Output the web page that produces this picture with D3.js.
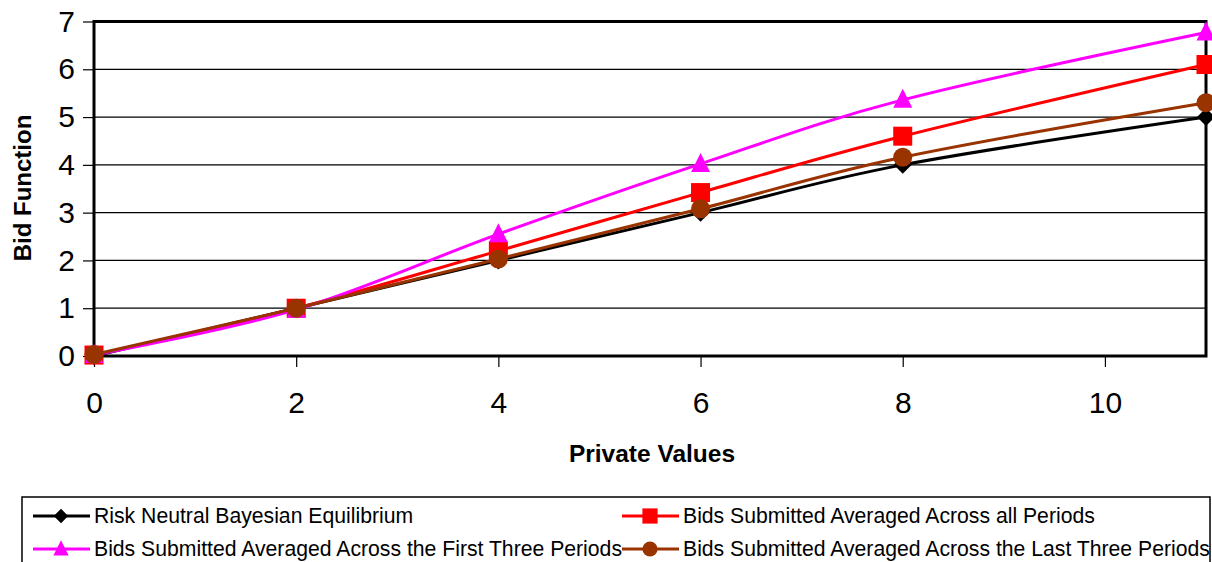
<!DOCTYPE html>
<html>
<head>
<meta charset="utf-8">
<script src="https://cdn.jsdelivr.net/npm/d3@7"></script>
<style>
  html, body { margin: 0; padding: 0; background: #fff; }
  svg { display: block; font-family: Arial, "Liberation Sans", sans-serif; }
</style>
</head>
<body>
<svg id="chart" width="1212" height="562"></svg>
<script>
// Private values at which bids were recorded
const privateValues = [0, 2, 4, 6, 8, 11];

// Bid functions
const riskNeutral   = [0, 1, 2, 3, 4, 5];
const allPeriods    = [0.02, 1.0, 2.2, 3.42, 4.6, 6.1];
const firstThree    = [0.02, 0.97, 2.55, 4.02, 5.36, 6.77];
const lastThree     = [0.03, 1.0, 2.03, 3.08, 4.16, 5.3];

const xTicks = [0, 2, 4, 6, 8, 10];
const yTicks = [0, 1, 2, 3, 4, 5, 6, 7];

const seriesNames = [
  "Risk Neutral Bayesian Equilibrium",
  "Bids Submitted Averaged Across all Periods",
  "Bids Submitted Averaged Across the First Three Periods",
  "Bids Submitted Averaged Across the Last Three Periods"
];

const series = [
  { name: seriesNames[0], values: riskNeutral, color: "#000000", marker: "diamond" },
  { name: seriesNames[1], values: allPeriods,  color: "#ff0000", marker: "square" },
  { name: seriesNames[2], values: firstThree,  color: "#ff00ff", marker: "triangle" },
  { name: seriesNames[3], values: lastThree,   color: "#993300", marker: "circle" }
];

const svg = d3.select("#chart");

const plot = { left: 94, right: 1206, top: 21.5, bottom: 356 };

const x = d3.scaleLinear().domain([0, 11]).range([plot.left, plot.right]);
const y = d3.scaleLinear().domain([0, 7]).range([plot.bottom, plot.top]);

// Horizontal gridlines
svg.append("g")
  .selectAll("line")
  .data(yTicks)
  .join("line")
  .attr("x1", plot.left).attr("x2", plot.right)
  .attr("y1", d => y(d)).attr("y2", d => y(d))
  .attr("stroke", "#000").attr("stroke-width", 1.2);

// Y axis ticks and labels
const yAxis = d3.axisLeft(y).tickValues(yTicks).tickSize(11).tickPadding(8).tickFormat(d3.format("d"));
const gy = svg.append("g").attr("transform", `translate(${plot.left},0)`).call(yAxis);
gy.select(".domain").remove();
gy.selectAll(".tick line").attr("stroke", "#000").attr("stroke-width", 1.2);
gy.selectAll(".tick text")
  .attr("font-size", 30).attr("fill", "#000")
  .attr("font-family", "Arial, 'Liberation Sans', sans-serif");

// X axis ticks and labels
const xAxis = d3.axisBottom(x).tickValues(xTicks).tickSize(11).tickPadding(25).tickFormat(d3.format("d"));
const gx = svg.append("g").attr("transform", `translate(0,${plot.bottom})`).call(xAxis);
gx.select(".domain").remove();
gx.selectAll(".tick line").attr("stroke", "#000").attr("stroke-width", 1.2);
gx.selectAll(".tick text")
  .attr("font-size", 30).attr("fill", "#000")
  .attr("font-family", "Arial, 'Liberation Sans', sans-serif");

// Plot frame
svg.append("rect")
  .attr("x", plot.left).attr("y", plot.top)
  .attr("width", plot.right - plot.left).attr("height", plot.bottom - plot.top)
  .attr("fill", "none").attr("stroke", "#000").attr("stroke-width", 3);

// Axis titles
svg.append("text")
  .attr("transform", `translate(31,188) rotate(-90)`)
  .attr("text-anchor", "middle")
  .attr("font-size", 24).attr("font-weight", "bold")
  .text("Bid Function");

svg.append("text")
  .attr("x", 652).attr("y", 462)
  .attr("text-anchor", "middle")
  .attr("font-size", 24.5).attr("font-weight", "bold")
  .text("Private Values");

// Marker drawing
function drawMarker(sel, type, color) {
  if (type === "diamond") {
    sel.append("path").attr("d", "M0,-9L9,0L0,9L-9,0Z").attr("fill", color);
  } else if (type === "square") {
    sel.append("rect").attr("x", -9.5).attr("y", -9.5).attr("width", 19).attr("height", 19).attr("fill", color);
  } else if (type === "triangle") {
    sel.append("path").attr("d", "M0,-11L9.5,8L-9.5,8Z").attr("fill", color);
  } else if (type === "circle") {
    sel.append("circle").attr("r", 9.5).attr("fill", color);
  }
}

const line = d3.line()
  .x((d, i) => x(privateValues[i]))
  .y(d => y(d))
  .curve(d3.curveCatmullRom.alpha(0));

series.forEach(s => {
  const g = svg.append("g");
  g.append("path")
    .attr("d", line(s.values))
    .attr("fill", "none")
    .attr("stroke", s.color)
    .attr("stroke-width", 3);
  s.values.forEach((v, i) => {
    const m = g.append("g").attr("transform", `translate(${x(privateValues[i])},${y(v)})`);
    drawMarker(m, s.marker, s.color);
  });
});

// Legend
const legend = svg.append("g");
legend.append("rect")
  .attr("x", 22).attr("y", 497).attr("width", 1188).attr("height", 80)
  .attr("fill", "#fff").attr("stroke", "#000").attr("stroke-width", 1.5);

const legendPos = [
  { lx: 33, ty: 516 },
  { lx: 622, ty: 516 },
  { lx: 33, ty: 549 },
  { lx: 622, ty: 549 }
];

series.forEach((s, i) => {
  const p = legendPos[i];
  const g = legend.append("g");
  g.append("line")
    .attr("x1", p.lx).attr("x2", p.lx + 57)
    .attr("y1", p.ty).attr("y2", p.ty)
    .attr("stroke", s.color).attr("stroke-width", 3);
  const m = g.append("g").attr("transform", `translate(${p.lx + 28},${p.ty}) scale(0.8)`);
  drawMarker(m, s.marker, s.color);
  g.append("text")
    .attr("x", p.lx + 61).attr("y", p.ty)
    .attr("dy", "0.35em")
    .attr("font-size", 21.2)
    .attr("fill", "#000")
    .text(s.name);
});
</script>
</body>
</html>
